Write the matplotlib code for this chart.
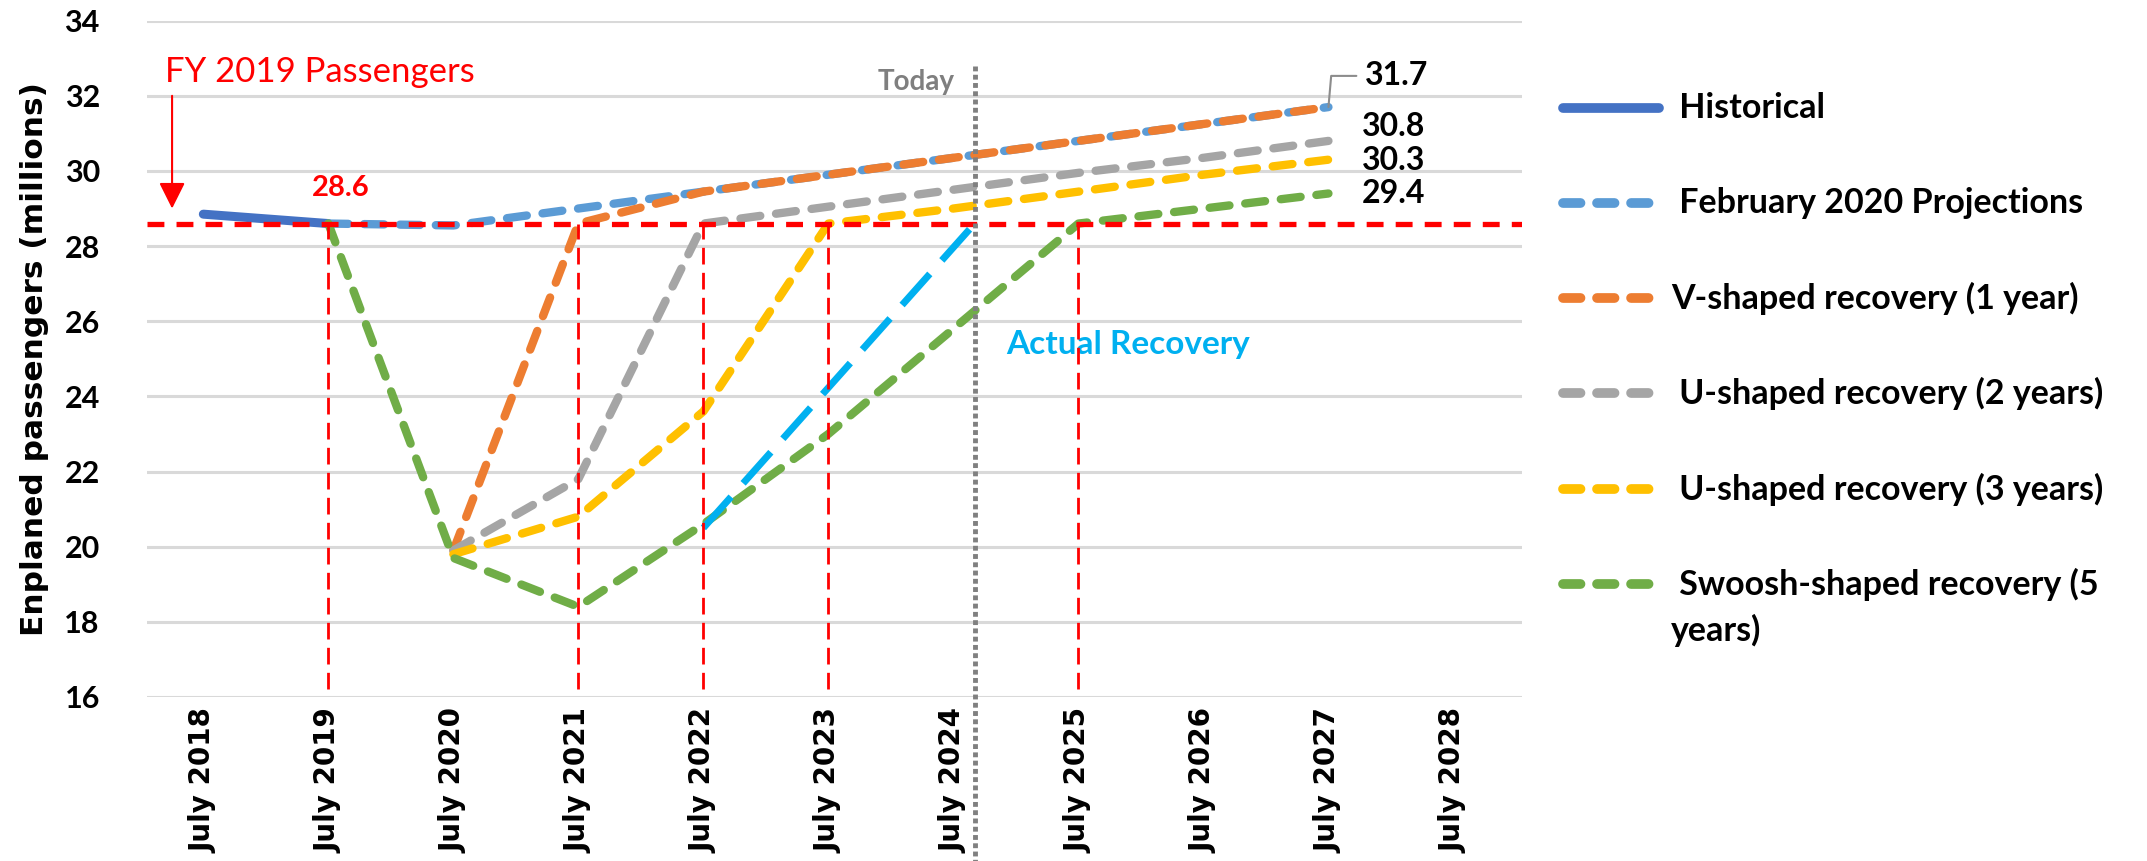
import numpy as np
import matplotlib.pyplot as plt

# Fiscal-year categories on the x axis
years = ['July 2018', 'July 2019', 'July 2020', 'July 2021', 'July 2022', 'July 2023',
         'July 2024', 'July 2025', 'July 2026', 'July 2027', 'July 2028']
nan = np.nan

# Enplaned passengers, millions (one value per category, nan = no point)
historical = [28.85, 28.6, nan, nan, nan, nan, nan, nan, nan, nan, nan]
feb2020 = [nan, 28.6, 28.55, 29.0, 29.45, 29.9, 30.35, 30.8, 31.25, 31.7, nan]
v_shaped = [nan, nan, 19.9, 28.6, 29.45, 29.9, 30.35, 30.8, 31.25, 31.7, nan]
u_2yr = [nan, nan, 19.9, 21.8, 28.6, 29.05, 29.5, 29.95, 30.35, 30.8, nan]
u_3yr = [nan, nan, 19.8, 20.8, 23.6, 28.6, 29.0, 29.45, 29.9, 30.3, nan]
swoosh = [nan, 28.6, 19.7, 18.4, 20.6, 23.0, 25.8, 28.6, 29.0, 29.4, nan]

# actual recovery runs from July 2022 up to "today"
actual_x = [4.0, 6.17]
actual_y = [20.5, 28.6]

fy2019 = 28.6
recovery_years = [1, 3, 4, 5, 7]   # where each scenario gets back to FY2019
today_x = 6.17

end_labels = [31.7, 30.8, 30.3, 29.4]
end_label_y = [32.53, 31.17, 30.29, 29.41]

BODY = 'Lato'
fig = plt.figure(figsize=(21.47, 8.61), dpi=100)
ax = fig.add_axes([0.0685, 0.1905, 0.6405, 0.7855])
x = np.arange(len(years))

ax.set_xlim(-0.45, 10.55)
ax.set_ylim(16, 34)
ax.set_yticks(np.arange(16, 35, 2))
ax.set_xticks(x)
ax.set_xticklabels(years, rotation=90, fontsize=20, fontweight='bold',
                   family='DejaVu Sans', va='top', ha='center')
for lbl in ax.get_yticklabels():
    lbl.set_fontsize(22)
    lbl.set_fontweight('bold')
    lbl.set_family(BODY)
ax.tick_params(axis='both', length=0)
ax.tick_params(axis='y', pad=34)
ax.tick_params(axis='x', pad=8)
for s in ax.spines.values():
    s.set_visible(False)
ax.grid(axis='y', color='#D9D9D9', linewidth=2.2)
ax.set_axisbelow(True)

ax.set_ylabel('Enplaned passengers (millions)', fontsize=22.5, fontweight='bold',
              family='DejaVu Sans')
ax.yaxis.set_label_coords(-0.071, 0.5)

dash = dict(lw=6, dashes=(2.4, 1.9), dash_capstyle='round')
ax.plot(x, historical, color='#4472C4', lw=6.5, solid_capstyle='round', zorder=3)
ax.plot(x, feb2020, color='#5B9BD5', zorder=3, **dash)
ax.plot(x, v_shaped, color='#ED7D31', zorder=3, **dash)
ax.plot(x, u_2yr, color='#A5A5A5', zorder=3, **dash)
ax.plot(x, u_3yr, color='#FFC000', zorder=3, **dash)
ax.plot(x, swoosh, color='#70AD47', zorder=3, **dash)
ax.plot(actual_x, actual_y, color='#00B0F0', lw=5, dashes=(6, 2.6), zorder=4)

# FY2019 reference level and recovery markers
ax.axhline(fy2019, color='#FF0000', lw=3.8, dashes=(3.2, 2.3), zorder=5)
for rx in recovery_years:
    ax.plot([rx, rx], [16.2, fy2019], color='#FF0000', lw=2, dashes=(6, 3), zorder=5)

# today marker
ax.plot([today_x, today_x], [32.8, 11.6], color='#808080', lw=3.5, dashes=(1, 0.7),
        clip_on=False, zorder=6)
ax.text(6.01, 32.37, 'Today', color='#7F7F7F', fontsize=20, fontweight='bold',
        family=BODY, ha='right', va='center')

ax.text(-0.31, 32.64, 'FY 2019 Passengers', color='#FF0000', fontsize=25,
        family=BODY, ha='left', va='center')
ax.annotate('', xy=(-0.25, 29.0), xytext=(-0.25, 32.0),
            arrowprops=dict(arrowstyle='-|>,head_length=0.8,head_width=0.4',
                            color='#FF0000', lw=1.5, mutation_scale=20,
                            shrinkA=0, shrinkB=0))
ax.text(1.1, 29.55, '28.6', color='#FF0000', fontsize=21, fontweight='bold',
        family=BODY, ha='center', va='center')
ax.text(6.42, 25.37, 'Actual Recovery', color='#00B0F0', fontsize=24,
        fontweight='bold', family=BODY, ha='left', va='center')

# end-of-period values
ax.annotate(f'{end_labels[0]}', xy=(9, end_labels[0]), xytext=(9.29, end_label_y[0]),
            fontsize=23, fontweight='bold', family=BODY, va='center', ha='left',
            arrowprops=dict(arrowstyle='-', color='#8C8C8C', lw=1.5,
                            connectionstyle='angle,angleA=0,angleB=85',
                            shrinkA=4, shrinkB=0))
for val, ty in zip(end_labels[1:], end_label_y[1:]):
    ax.text(9.27, ty, f'{val}', fontsize=23, fontweight='bold', family=BODY,
            va='center', ha='left')

# legend drawn in pixel space on an overlay axes
lax = fig.add_axes([0, 0, 1, 1], facecolor='none')
lax.set_xlim(0, 2147)
lax.set_ylim(861, 0)
lax.axis('off')
legend_items = [
    (' Historical', '#4472C4', True, 108),
    (' February 2020 Projections', '#5B9BD5', False, 203),
    ('V-shaped recovery (1 year)', '#ED7D31', False, 298),
    (' U-shaped recovery (2 years)', '#A5A5A5', False, 393),
    (' U-shaped recovery (3 years)', '#FFC000', False, 489),
    (' Swoosh-shaped recovery (5\nyears)', '#70AD47', False, 584),
]
for label, color, solid, ly in legend_items:
    if solid:
        lax.plot([1563, 1659], [ly, ly], color=color, lw=7, solid_capstyle='round')
    else:
        lax.plot([1563, 1650], [ly, ly], color=color, lw=7, dashes=(1.8, 1.7),
                 dash_capstyle='round')
    for i, line in enumerate(label.split('\n')):
        lax.text(1671, ly + i * 46, line, fontsize=24.5, fontweight='bold', family=BODY,
                 ha='left', va='center')

fig.savefig('out.png', dpi=100)
